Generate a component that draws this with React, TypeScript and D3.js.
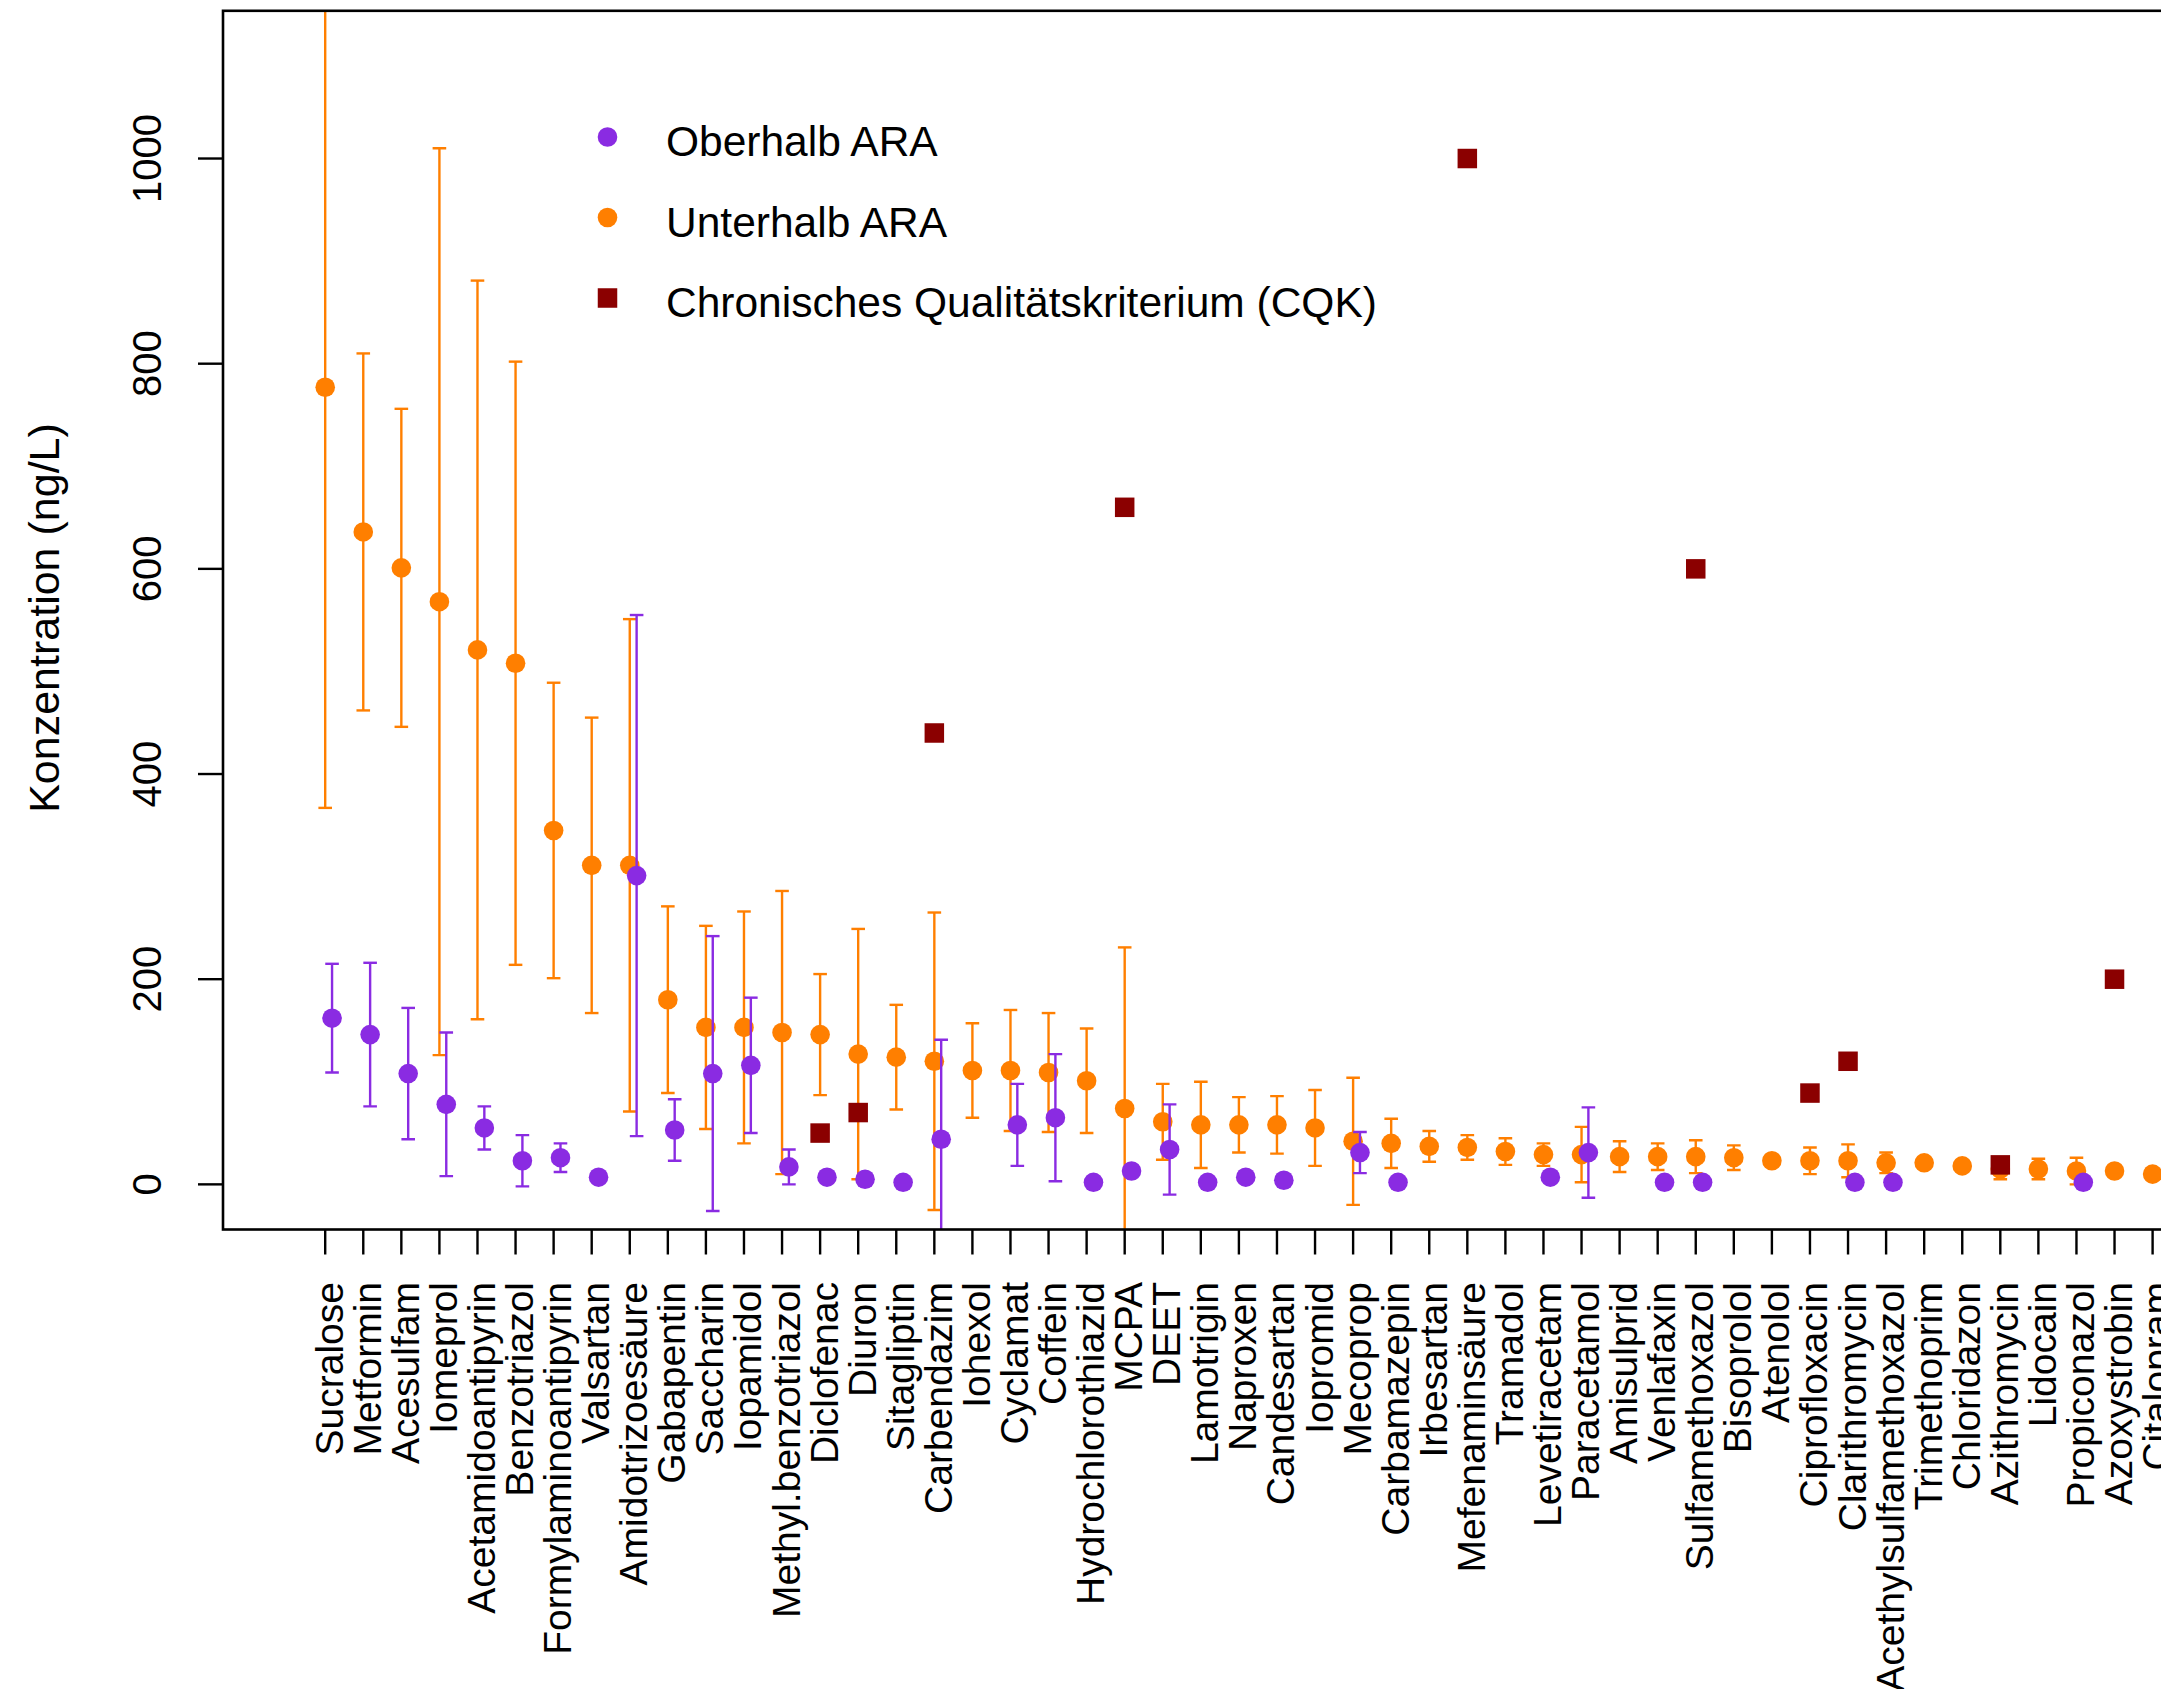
import React from 'react';
import * as d3 from 'd3';

// Substances, ordered by mean concentration downstream of the treatment plant
const substances = [
  'Sucralose', 'Metformin', 'Acesulfam', 'Iomeprol', 'Acetamidoantipyrin',
  'Benzotriazol', 'Formylaminoantipyrin', 'Valsartan', 'Amidotrizoesäure', 'Gabapentin',
  'Saccharin', 'Iopamidol', 'Methyl.benzotriazol', 'Diclofenac', 'Diuron',
  'Sitagliptin', 'Carbendazim', 'Iohexol', 'Cyclamat', 'Coffein',
  'Hydrochlorothiazid', 'MCPA', 'DEET', 'Lamotrigin', 'Naproxen',
  'Candesartan', 'Iopromid', 'Mecoprop', 'Carbamazepin', 'Irbesartan',
  'Mefenaminsäure', 'Tramadol', 'Levetiracetam', 'Paracetamol', 'Amisulprid',
  'Venlafaxin', 'Sulfamethoxazol', 'Bisoprolol', 'Atenolol', 'Ciprofloxacin',
  'Clarithromycin', 'Acethylsulfamethoxazol', 'Trimethoprim', 'Chloridazon', 'Azithromycin',
  'Lidocain', 'Propiconazol', 'Azoxystrobin', 'Citalopram',
];

// Upstream of the plant (Oberhalb ARA): mean and standard deviation, ng/L
const oberhalbMean: (number | null)[] = [
  162, 146, 108, 78, 55, 23, 26, 7, 301, 53,
  108, 116, 17, 7, 5, 2, 44, null, 58, 65,
  2, 13, 34, 2, 7, 4, null, 31, 2, null,
  null, null, 7, 31, null, 2, 2, null, null, null,
  2, 2, null, null, null, null, 2, null, null,
];
const oberhalbSd: number[] = [
  53, 70, 64, 70, 21, 25, 14, 0, 254, 30,
  134, 66, 17, 0, 0, 0, 97, 0, 40, 62,
  0, 0, 44, 0, 0, 0, 0, 20, 0, 0,
  0, 0, 0, 44, 0, 0, 0, 0, 0, 0,
  0, 0, 0, 0, 0, 0, 0, 0, 0,
];

// Downstream of the plant (Unterhalb ARA): mean and standard deviation, ng/L
const unterhalbMean: number[] = [
  777, 636, 601, 568, 521, 508, 345, 311, 311, 180,
  153, 153, 148, 146, 127, 124, 120, 111, 111, 109,
  101, 74, 61, 58, 58, 58, 55, 42, 40, 37,
  36, 32, 29, 29, 27, 27, 27, 26, 23, 23,
  23, 21, 21, 18, 15, 15, 13, 13, 10,
];
const unterhalbSd: number[] = [
  410, 174, 155, 442, 360, 294, 144, 144, 240, 91,
  99, 113, 138, 59, 122, 51, 145, 46, 59, 58,
  51, 157, 37, 42, 27, 28, 37, 62, 24, 15,
  12, 13, 11, 27, 15, 13, 16, 12, 3, 13,
  16, 10, 3, 3, 10, 10, 13, 3, 3,
];

// Chronic quality criterion (CQK), ng/L, where one exists
const cqk: (number | null)[] = [
  null, null, null, null, null, null, null, null, null, null,
  null, null, null, 50, 70, null, 440, null, null, null,
  null, 660, null, null, null, null, null, null, null, null,
  1000, null, null, null, null, null, 600, null, null, 89,
  120, null, null, null, 19, null, null, 200, null,
];

const yTicks = [0, 200, 400, 600, 800, 1000];
const legendLabels = ['Oberhalb ARA', 'Unterhalb ARA', 'Chronisches Qualitätskriterium (CQK)'];
const yTitle = 'Konzentration (ng/L)';

const W = 2161;
const H = 1689;
const PLOT = { left: 223, top: 10.8, bottom: 1229.5, right: 2400 };
const COLORS = { ober: '#8A2BE2', unter: '#FF7F00', cqk: '#8B0000' };
const FONT = '"Liberation Sans", Arial, Helvetica, sans-serif';
const POINT_R = 9.8;
const SQUARE = 19.5;
const CAP = 6.8;
const TICK = 25;
const OBER_SHIFT = 0.18;

type BarProps = { cx: number; mean: number; sd: number; color: string; y: d3.ScaleLinear<number, number> };

function ErrorBar({ cx, mean, sd, color, y }: BarProps) {
  if (!(sd > 0)) return null;
  const y0 = y(mean - sd);
  const y1 = y(mean + sd);
  return (
    <g stroke={color} strokeWidth={2.4} fill="none">
      <line x1={cx} x2={cx} y1={y0} y2={y1} />
      <line x1={cx - CAP} x2={cx + CAP} y1={y0} y2={y0} />
      <line x1={cx - CAP} x2={cx + CAP} y1={y1} y2={y1} />
    </g>
  );
}

export default function App() {
  const x = d3.scaleLinear().domain([1, substances.length]).range([325.2, 2152.6]);
  const y = d3.scaleLinear().domain([-44, 1144]).range([PLOT.bottom, PLOT.top]);

  const legendX = 607.5;
  const legendRows = [137, 217.5, 298];

  return (
    <svg
      width={W}
      height={H}
      viewBox={`0 0 ${W} ${H}`}
      style={{ position: 'absolute', left: 0, top: 0, display: 'block', background: '#fff' }}
      fontFamily={FONT}
    >
      <defs>
        <clipPath id="plot-area">
          <rect x={PLOT.left} y={PLOT.top} width={PLOT.right - PLOT.left} height={PLOT.bottom - PLOT.top} />
        </clipPath>
      </defs>
      <rect x={0} y={0} width={W} height={H} fill="#fff" />

      <g clipPath="url(#plot-area)">
        {/* downstream series */}
        {unterhalbMean.map((m, i) => (
          <g key={`u${i}`}>
            <ErrorBar cx={x(i + 1)} mean={m} sd={unterhalbSd[i]} color={COLORS.unter} y={y} />
            <circle cx={x(i + 1)} cy={y(m)} r={POINT_R} fill={COLORS.unter} />
          </g>
        ))}
        {/* upstream series, nudged right */}
        {oberhalbMean.map((m, i) =>
          m == null ? null : (
            <g key={`o${i}`}>
              <ErrorBar cx={x(i + 1 + OBER_SHIFT)} mean={m} sd={oberhalbSd[i]} color={COLORS.ober} y={y} />
              <circle cx={x(i + 1 + OBER_SHIFT)} cy={y(m)} r={POINT_R} fill={COLORS.ober} />
            </g>
          )
        )}
        {/* quality criteria */}
        {cqk.map((v, i) =>
          v == null ? null : (
            <rect
              key={`c${i}`}
              x={x(i + 1) - SQUARE / 2}
              y={y(v) - SQUARE / 2}
              width={SQUARE}
              height={SQUARE}
              fill={COLORS.cqk}
            />
          )
        )}
      </g>

      {/* plot frame */}
      <rect
        x={PLOT.left}
        y={PLOT.top}
        width={PLOT.right - PLOT.left}
        height={PLOT.bottom - PLOT.top}
        fill="none"
        stroke="#000"
        strokeWidth={2.6}
      />

      {/* y axis */}
      <g>
        {yTicks.map((t) => (
          <g key={`yt${t}`}>
            <line x1={PLOT.left - TICK} x2={PLOT.left} y1={y(t)} y2={y(t)} stroke="#000" strokeWidth={2.4} />
            <text
              transform={`translate(161, ${y(t)}) rotate(-90)`}
              textAnchor="middle"
              fontSize={40}
              fill="#000"
            >
              {t}
            </text>
          </g>
        ))}
        <text transform="translate(59, 618) rotate(-90)" textAnchor="middle" fontSize={43} fill="#000">
          {yTitle}
        </text>
      </g>

      {/* x axis */}
      <g>
        {substances.map((s, i) => (
          <g key={`xt${i}`}>
            <line
              x1={x(i + 1)}
              x2={x(i + 1)}
              y1={PLOT.bottom}
              y2={PLOT.bottom + TICK}
              stroke="#000"
              strokeWidth={2.4}
            />
            <text
              transform={`translate(${x(i + 1) + 17.5}, 1282) rotate(-90)`}
              textAnchor="end"
              fontSize={39}
              fill="#000"
            >
              {s}
            </text>
          </g>
        ))}
      </g>

      {/* legend */}
      <g>
        <circle cx={legendX} cy={legendRows[0]} r={POINT_R} fill={COLORS.ober} />
        <circle cx={legendX} cy={legendRows[1]} r={POINT_R} fill={COLORS.unter} />
        <rect
          x={legendX - SQUARE / 2}
          y={legendRows[2] - SQUARE / 2}
          width={SQUARE}
          height={SQUARE}
          fill={COLORS.cqk}
        />
        {legendLabels.map((l, i) => (
          <text key={l} x={666} y={legendRows[i] + 19} fontSize={42.5} fill="#000">
            {l}
          </text>
        ))}
      </g>
    </svg>
  );
}
